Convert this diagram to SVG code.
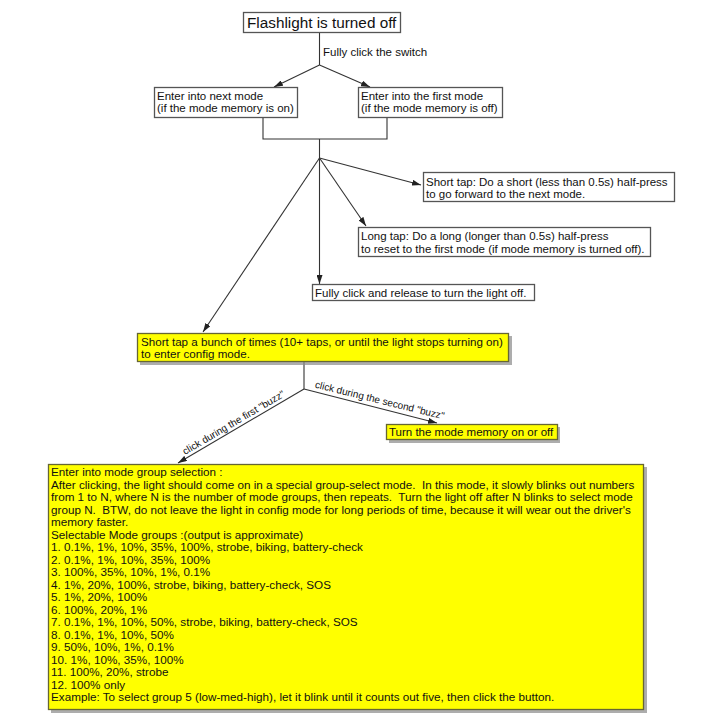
<svg xmlns="http://www.w3.org/2000/svg" width="705" height="720" viewBox="0 0 705 720">
<style>
text{font-family:"Liberation Sans",Arial,sans-serif;font-size:11.5px;fill:#111;}
.box{fill:#fff;stroke:#555;stroke-width:1.3;}
.ybox{fill:#ffff00;stroke:#666633;stroke-width:1.3;}
.shadow{fill:#8a8a8a;opacity:0.7;}
.ln{fill:none;stroke:#333;stroke-width:1.1;}
.arr{fill:none;stroke:#333;stroke-width:1.1;marker-end:url(#ah);}
.lbl{font-size:10px;}
.big text{font-size:11.7px;white-space:pre;}
</style>
<defs>
<marker id="ah" markerUnits="userSpaceOnUse" markerWidth="9" markerHeight="6" refX="9" refY="3" orient="auto">
<path d="M0,0 L9,3 L0,6 z" fill="#222"/>
</marker>
</defs>
<rect width="705" height="720" fill="#fff"/>
<g id="connectors">
<line class="ln" x1="319.5" y1="32" x2="319.5" y2="65"/>
<line class="arr" x1="319.5" y1="65" x2="274" y2="87"/>
<line class="arr" x1="319.5" y1="65" x2="370" y2="87"/>
<polyline class="ln" points="263,117 263,139 387,139 387,117"/>
<line class="ln" x1="319.5" y1="139" x2="319.5" y2="158"/>
<line class="arr" x1="319.5" y1="158" x2="421" y2="185"/>
<line class="arr" x1="319.5" y1="158" x2="366" y2="226"/>
<line class="arr" x1="319.5" y1="158" x2="319.5" y2="284"/>
<line class="arr" x1="319.5" y1="158" x2="203" y2="332"/>
<line class="ln" x1="304" y1="362" x2="304" y2="389"/>
<line class="arr" x1="304" y1="389" x2="178" y2="463"/>
<line class="arr" x1="304" y1="389" x2="437" y2="423"/>
<text x="323" y="56">Fully click the switch</text>
<text class="lbl" x="185" y="455" transform="rotate(-30.4 185 455)">click during the first "buzz"</text>
<text class="lbl" x="314.5" y="387.5" transform="rotate(13.9 314.5 387.5)">click during the second "buzz"</text>
</g>
<g id="start">
<rect class="box" x="243.5" y="12.5" width="157" height="20"/>
<text x="247" y="28" style="font-size:15.3px">Flashlight is turned off</text>
</g>
<g id="next-mode">
<rect class="box" x="154.5" y="87.5" width="143" height="30"/>
<text x="157" y="99.5">Enter into next mode</text>
<text x="157" y="112">(if the mode memory is on)</text>
</g>
<g id="first-mode">
<rect class="box" x="358.5" y="87.5" width="144" height="30"/>
<text x="361" y="99.5">Enter into the first mode</text>
<text x="361" y="112">(if the mode memory is off)</text>
</g>
<g id="short-tap">
<rect class="box" x="423.5" y="172.5" width="251" height="29"/>
<text x="426" y="185.5">Short tap: Do a short (less than 0.5s) half-press</text>
<text x="426" y="197.5">to go forward to the next mode.</text>
</g>
<g id="long-tap">
<rect class="box" x="358.5" y="227.5" width="292" height="29"/>
<text x="361" y="240">Long tap: Do a long (longer than 0.5s) half-press</text>
<text x="361" y="252.5">to reset to the first mode (if mode memory is turned off).</text>
</g>
<g id="turn-off">
<rect class="box" x="312.5" y="284.5" width="222" height="16"/>
<text x="315" y="297">Fully click and release to turn the light off.</text>
</g>
<g id="config">
<rect class="shadow" x="140" y="336" width="372" height="29"/>
<rect class="ybox" x="137.5" y="333.5" width="371" height="28"/>
<text x="141" y="346" style="font-size:11.6px">Short tap a bunch of times (10+ taps, or until the light stops turning on)</text>
<text x="141" y="358" style="font-size:11.6px">to enter config mode.</text>
</g>
<g id="memory-toggle">
<rect class="shadow" x="389" y="427" width="171" height="16"/>
<rect class="ybox" x="386.5" y="424.5" width="171" height="15"/>
<text x="389" y="436">Turn the mode memory on or off</text>
</g>
<g id="group-select" class="big">
<rect class="shadow" x="51" y="467" width="596" height="246"/>
<rect class="ybox" x="48.5" y="464.5" width="595" height="245"/>
<text x="51" y="476">Enter into mode group selection :</text>
<text x="51" y="488.5">After clicking, the light should come on in a special group-select mode.  In this mode, it slowly blinks out numbers</text>
<text x="51" y="501">from 1 to N, where N is the number of mode groups, then repeats.  Turn the light off after N blinks to select mode</text>
<text x="51" y="513.5">group N.  BTW, do not leave the light in config mode for long periods of time, because it will wear out the driver's</text>
<text x="51" y="526">memory faster.</text>
<text x="51" y="538.5">Selectable Mode groups :(output is approximate)</text>
<text x="51" y="551">1. 0.1%, 1%, 10%, 35%, 100%, strobe, biking, battery-check</text>
<text x="51" y="563.5">2. 0.1%, 1%, 10%, 35%, 100%</text>
<text x="51" y="576">3. 100%, 35%, 10%, 1%, 0.1%</text>
<text x="51" y="588.5">4. 1%, 20%, 100%, strobe, biking, battery-check, SOS</text>
<text x="51" y="601">5. 1%, 20%, 100%</text>
<text x="51" y="613.5">6. 100%, 20%, 1%</text>
<text x="51" y="626">7. 0.1%, 1%, 10%, 50%, strobe, biking, battery-check, SOS</text>
<text x="51" y="638.5">8. 0.1%, 1%, 10%, 50%</text>
<text x="51" y="651">9. 50%, 10%, 1%, 0.1%</text>
<text x="51" y="663.5">10. 1%, 10%, 35%, 100%</text>
<text x="51" y="676">11. 100%, 20%, strobe</text>
<text x="51" y="688.5">12. 100% only</text>
<text x="51" y="701">Example: To select group 5 (low-med-high), let it blink until it counts out five, then click the button.</text>
</g>
</svg>
